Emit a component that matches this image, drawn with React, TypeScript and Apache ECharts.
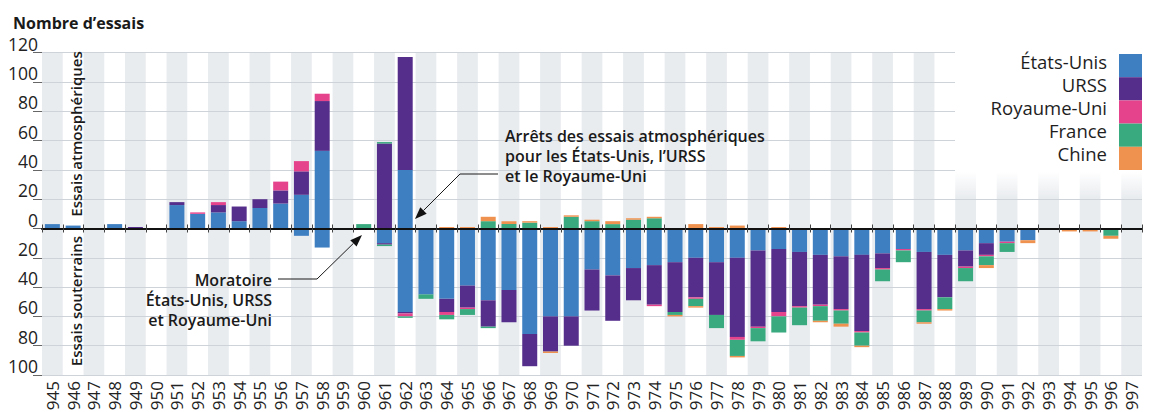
import React, { useEffect, useRef } from 'react';
import * as echarts from 'echarts';

const years = ['1945','1946','1947','1948','1949','1950','1951','1952','1953','1954','1955','1956','1957','1958','1959','1960','1961','1962','1963','1964','1965','1966','1967','1968','1969','1970','1971','1972','1973','1974','1975','1976','1977','1978','1979','1980','1981','1982','1983','1984','1985','1986','1987','1988','1989','1990','1991','1992','1993','1994','1995','1996','1997'];

const countries = ['États-Unis', 'URSS', 'Royaume-Uni', 'France', 'Chine'];
const colors = ['#3e7fc2', '#552e8b', '#e5448c', '#39aa7f', '#f0924f'];

// Atmospheric tests (above the axis)
const usAtm = [3,2,0,3,0,0,16,10,11,5,14,17,23,53,0,0,0,40,0,0,0,0,0,0,0,0,0,0,0,0,0,0,0,0,0,0,0,0,0,0,0,0,0,0,0,0,0,0,0,0,0,0,0];
const ussrAtm = [0,0,0,0,1,0,2,0,5,10,6,9,16,34,0,0,58,77,0,0,0,0,0,0,0,0,0,0,0,0,0,0,0,0,0,0,0,0,0,0,0,0,0,0,0,0,0,0,0,0,0,0,0];
const ukAtm = [0,0,0,0,0,0,0,1,2,0,0,6,7,5,0,0,0,0,0,0,0,0,0,0,0,0,0,0,0,0,0,0,0,0,0,0,0,0,0,0,0,0,0,0,0,0,0,0,0,0,0,0,0];
const frAtm = [0,0,0,0,0,0,0,0,0,0,0,0,0,0,0,3,1,0,0,0,0,5,3,4,0,8,5,3,6,7,0,0,0,0,0,0,0,0,0,0,0,0,0,0,0,0,0,0,0,0,0,0,0];
const cnAtm = [0,0,0,0,0,0,0,0,0,0,0,0,0,0,0,0,0,0,0,1,1,3,2,1,1,1,1,2,1,1,0,3,1,2,0,1,0,0,0,0,0,0,0,0,0,0,0,0,0,0,0,0,0];

// Underground tests (below the axis)
const usUnd = [0,0,0,0,0,0,0,0,0,0,1,0,5,13,0,0,10,57,45,48,39,49,42,72,60,60,28,32,27,25,23,20,23,20,15,14,16,18,19,18,17,14,16,18,15,10,9,8,0,0,0,0,0];
const ussrUnd = [0,0,0,0,0,0,0,0,0,0,0,0,0,0,0,0,1,1,0,9,15,18,22,22,24,20,28,31,22,27,34,27,36,54,52,43,37,34,36,52,10,0,39,29,11,8,0,0,0,0,0,0,0];
const ukUnd = [0,0,0,0,0,0,0,0,0,0,0,0,0,0,0,0,0,2,0,2,1,0,0,0,0,0,0,0,0,1,0,1,0,2,1,3,1,1,1,1,1,1,1,0,1,1,1,0,0,0,0,0,0];
const frUnd = [0,0,0,0,0,0,0,0,0,0,0,0,0,0,0,0,1,1,3,3,4,1,0,0,0,0,0,0,0,0,2,5,9,11,9,11,12,10,9,9,8,8,8,8,9,6,6,0,0,0,0,5,1];
const cnUnd = [0,0,0,0,0,0,0,0,0,0,0,0,0,0,0,0,0,0,0,0,0,0,0,0,1,0,0,0,0,0,1,1,0,1,0,0,0,1,2,1,0,0,1,1,0,2,0,2,1,2,2,2,0];

const yTicksMin = -100;
const yTicksMax = 120;
const yTickStep = 20;

const atmSeries = [usAtm, ussrAtm, ukAtm, frAtm, cnAtm];
const undSeries = [usUnd, ussrUnd, ukUnd, frUnd, cnUnd];

const FONT = "'Open Sans', 'Noto Sans', sans-serif";

const LEGEND_TOP = 54;
const LEGEND_ITEM_H = 23.2;
const LEGEND_RIGHT = 18;
const LEGEND_ICON_W = 23;

function arrowHead(tip: number[], tail: number[], len: number, half: number) {
  const dx = tip[0] - tail[0];
  const dy = tip[1] - tail[1];
  const l = Math.sqrt(dx * dx + dy * dy);
  const ux = dx / l, uy = dy / l;
  const nx = -uy, ny = ux;
  const bx = tip[0] - ux * len, by = tip[1] - uy * len;
  return {
    base: [bx, by],
    points: [tip, [bx + nx * half, by + ny * half], [bx - nx * half, by - ny * half]],
  };
}

export default function App() {
  const ref = useRef<HTMLDivElement>(null);

  useEffect(() => {
    if (!ref.current) return;
    const chart = echarts.init(ref.current, null, { renderer: 'svg' });
    const W = 1160;

    const series: any[] = [];
    countries.forEach((c, i) => {
      series.push({
        name: c,
        type: 'bar',
        stack: 'total',
        stackStrategy: 'samesign',
        xAxisIndex: 0,
        barWidth: 15,
        itemStyle: { color: colors[i] },
        data: atmSeries[i].map((v) => (v ? v : null)),
      });
    });
    countries.forEach((c, i) => {
      series.push({
        name: c,
        type: 'bar',
        stack: 'total',
        stackStrategy: 'samesign',
        xAxisIndex: 0,
        barWidth: 15,
        itemStyle: { color: colors[i] },
        data: undSeries[i].map((v) => (v ? -v : null)),
      });
    });

    const a1Tip = [415, 219];
    const a1Tail = [460, 174];
    const a1 = arrowHead(a1Tip, a1Tail, 12, 4.5);
    const a2Tip = [362, 235];
    const a2Tail = [317, 279];
    const a2 = arrowHead(a2Tip, a2Tail, 12, 4.5);

    const legendLabels = countries.map((c, i) => ({
      type: 'text',
      z: 6,
      x: W - LEGEND_RIGHT - LEGEND_ICON_W - 12,
      y: LEGEND_TOP + LEGEND_ITEM_H * i + LEGEND_ITEM_H / 2 - 4.6,
      style: { text: c, font: `400 18.5px ${FONT}`, fill: '#1e1e1e', align: 'right', verticalAlign: 'middle' },
    }));

    const option: any = {
      animation: false,
      textStyle: { fontFamily: FONT },
      title: {
        text: 'Nombre d’essais',
        left: 13,
        top: 15,
        padding: 0,
        textStyle: { fontSize: 16, fontWeight: 'bold', color: '#1a1a1a', fontFamily: FONT },
      },
      legend: {
        data: countries,
        orient: 'vertical',
        right: LEGEND_RIGHT,
        top: LEGEND_TOP,
        align: 'right',
        icon: 'rect',
        itemWidth: LEGEND_ICON_W,
        itemHeight: LEGEND_ITEM_H,
        itemGap: 0,
        selectedMode: false,
        padding: 0,
        formatter: () => '',
        textStyle: { fontSize: 1, lineHeight: 1 },
      },
      grid: { left: 42, right: 18, top: 52.7, bottom: 37, containLabel: false, outerBoundsMode: 'none' },
      xAxis: [
        {
          type: 'category',
          data: years,
          position: 'bottom',
          axisLine: { show: false, onZero: false },
          axisTick: { show: false },
          axisLabel: {
            interval: 0,
            rotate: 90,
            margin: 6,
            fontSize: 17,
            color: '#222',
            fontFamily: FONT,
            formatter: (v: string) => v.slice(1),
          },
          splitArea: { show: true, interval: 0, areaStyle: { color: ['#e9ecef', 'rgba(255,255,255,0)'] } },
          splitLine: { show: false },
        },
        {
          type: 'category',
          data: years,
          position: 'bottom',
          axisLine: { show: true, onZero: true, onZeroAxisIndex: 0, lineStyle: { color: '#111', width: 2 } },
          axisTick: { show: true, interval: 0, length: 4, lineStyle: { color: '#444', width: 1 } },
          axisLabel: { show: false },
          splitLine: { show: false },
          z: 5,
        },
        {
          type: 'category',
          data: years,
          position: 'top',
          axisLine: { show: false, onZero: true, onZeroAxisIndex: 0 },
          axisTick: { show: true, interval: 0, length: 4, lineStyle: { color: '#444', width: 1 } },
          axisLabel: { show: false },
          splitLine: { show: false },
          z: 5,
        },
      ],
      yAxis: {
        type: 'value',
        min: yTicksMin,
        max: yTicksMax,
        interval: yTickStep,
        axisLine: { show: false },
        axisTick: { show: true, length: 9, lineStyle: { color: '#666', width: 1 } },
        axisLabel: {
          formatter: (v: number) => String(Math.abs(v)),
          fontSize: 17.5,
          color: '#222',
          margin: 4,
          verticalAlign: 'bottom',
          fontFamily: FONT,
        },
        splitLine: { lineStyle: { color: '#cdd3d8', width: 1.2 } },
        z: 1,
      },
      series,
      graphic: [
        {
          type: 'rect',
          z: 1.5,
          shape: { x: 955, y: 30, width: 205, height: 168 },
          style: {
            fill: new echarts.graphic.LinearGradient(0, 0, 0, 1, [
              { offset: 0, color: 'rgba(255,255,255,1)' },
              { offset: 0.845, color: 'rgba(255,255,255,1)' },
              { offset: 1, color: 'rgba(255,255,255,0)' },
            ]),
          },
          silent: true,
        },
        ...legendLabels,
        {
          type: 'text',
          z: 6,
          x: 76,
          y: 134,
          rotation: Math.PI / 2,
          style: { text: 'Essais atmosphériques', font: `600 15px ${FONT}`, fill: '#1a1a1a', align: 'center', verticalAlign: 'middle' },
        },
        {
          type: 'text',
          z: 6,
          x: 76,
          y: 301,
          rotation: Math.PI / 2,
          style: { text: 'Essais souterrains', font: `600 15px ${FONT}`, fill: '#1a1a1a', align: 'center', verticalAlign: 'middle' },
        },
        {
          type: 'text',
          z: 6,
          x: 505,
          y: 126,
          style: {
            text: 'Arrêts des essais atmosphériques\npour les États-Unis, l’URSS\net le Royaume-Uni',
            font: `600 16px ${FONT}`,
            lineHeight: 20,
            fill: '#1a1a1a',
            align: 'left',
            verticalAlign: 'top',
          },
        },
        {
          type: 'text',
          z: 6,
          x: 272,
          y: 270,
          style: {
            text: 'Moratoire\nÉtats-Unis, URSS\net Royaume-Uni',
            font: `600 16px ${FONT}`,
            lineHeight: 20,
            fill: '#1a1a1a',
            align: 'right',
            verticalAlign: 'top',
          },
        },
        {
          type: 'polyline',
          z: 6,
          shape: { points: [[498, 174], a1Tail, a1.base] },
          style: { stroke: '#1a1a1a', lineWidth: 1, fill: 'none' },
        },
        {
          type: 'polygon',
          z: 6,
          shape: { points: a1.points },
          style: { fill: '#111' },
        },
        {
          type: 'polyline',
          z: 6,
          shape: { points: [[278, 279], a2Tail, a2.base] },
          style: { stroke: '#1a1a1a', lineWidth: 1, fill: 'none' },
        },
        {
          type: 'polygon',
          z: 6,
          shape: { points: a2.points },
          style: { fill: '#111' },
        },
      ],
    };

    chart.setOption(option);
    return () => chart.dispose();
  }, []);

  return (
    <div
      ref={ref}
      style={{ position: 'fixed', left: 0, top: 0, width: 1160, height: 412, background: '#fff' }}
    />
  );
}
